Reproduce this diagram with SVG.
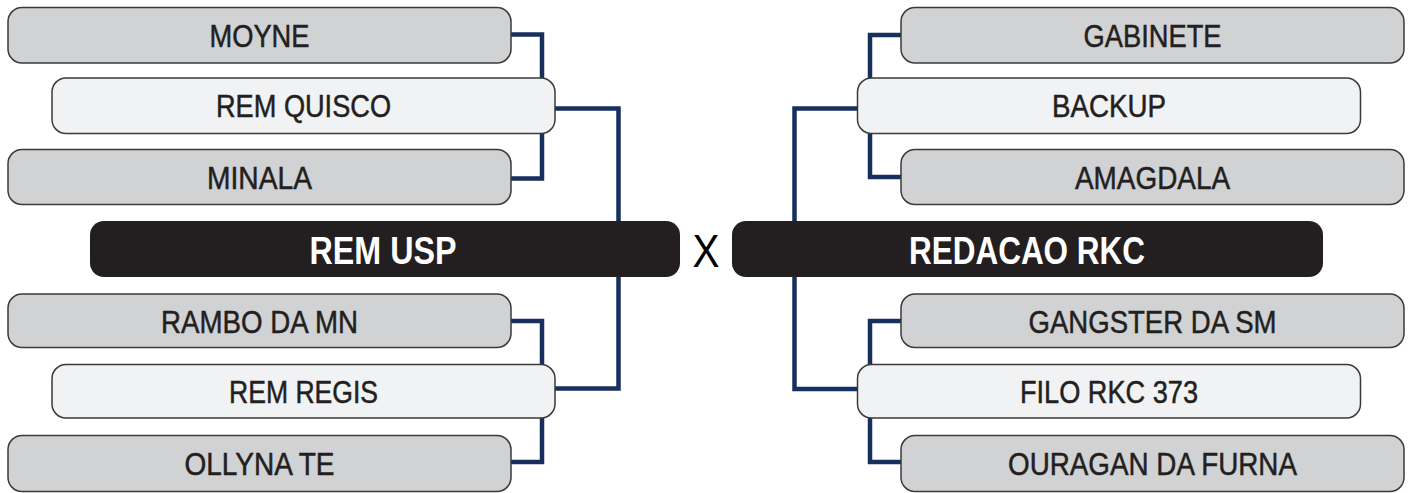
<svg xmlns="http://www.w3.org/2000/svg" width="1412" height="493" viewBox="0 0 1412 493">
<style>
.box{stroke:#3a3a3a;stroke-width:1.5}
.outer{fill:#d1d2d4}
.inner{fill:#f1f2f4}
.main{fill:#231f20;stroke:none}
.lbl{font-family:"Liberation Sans",Arial,sans-serif;font-size:32px;fill:#231f20;stroke:#231f20;stroke-width:0.5;text-anchor:middle}
.mlbl{font-family:"Liberation Sans",Arial,sans-serif;font-size:38px;font-weight:bold;fill:#ffffff;text-anchor:middle}
.conn{fill:none;stroke:#172f5c;stroke-width:4.5;stroke-linejoin:miter}
</style>
<rect width="1412" height="493" fill="#ffffff"/>
<g id="connectors">
<path class="conn" d="M511,34.5 H542 V178.5 H511"/>
<path class="conn" d="M555,108.5 H618.5 V388.5 H555"/>
<path class="conn" d="M511,321 H542 V462 H511"/>
<path class="conn" d="M901,35 H870 V177 H901"/>
<path class="conn" d="M857.5,108.5 H794.5 V389 H857.5"/>
<path class="conn" d="M901,321 H870 V462 H901"/>
</g>
<g id="moyne"><rect class="box outer" x="8" y="7.5" width="503" height="55.5" rx="14"/><text class="lbl" x="259.5" y="47" textLength="100" lengthAdjust="spacingAndGlyphs">MOYNE</text></g>
<g id="rem-quisco"><rect class="box inner" x="52" y="78" width="503" height="55.5" rx="14"/><text class="lbl" x="303.5" y="117" textLength="175" lengthAdjust="spacingAndGlyphs">REM QUISCO</text></g>
<g id="minala"><rect class="box outer" x="8" y="149.5" width="503" height="55" rx="14"/><text class="lbl" x="259.5" y="188.5" textLength="105" lengthAdjust="spacingAndGlyphs">MINALA</text></g>
<g id="rem-usp"><rect class="main" x="90" y="221" width="590" height="56" rx="14"/><text class="mlbl" x="383" y="264" textLength="147" lengthAdjust="spacingAndGlyphs">REM USP</text></g>
<g id="rambo-da-mn"><rect class="box outer" x="8" y="294" width="503" height="53.5" rx="14"/><text class="lbl" x="259.5" y="332.5" textLength="197" lengthAdjust="spacingAndGlyphs">RAMBO DA MN</text></g>
<g id="rem-regis"><rect class="box inner" x="52" y="364.5" width="503" height="53.5" rx="14"/><text class="lbl" x="303.5" y="403" textLength="149" lengthAdjust="spacingAndGlyphs">REM REGIS</text></g>
<g id="ollyna-te"><rect class="box outer" x="8" y="435.5" width="503" height="56" rx="14"/><text class="lbl" x="259.5" y="475" textLength="150" lengthAdjust="spacingAndGlyphs">OLLYNA TE</text></g>
<g id="versus"><text class="lbl" x="706" y="267" textLength="27" lengthAdjust="spacingAndGlyphs" style="font-size:46px;fill:#000000;stroke:none">X</text></g>
<g id="gabinete"><rect class="box outer" x="901" y="7.5" width="503" height="55.5" rx="14"/><text class="lbl" x="1152.5" y="47" textLength="138" lengthAdjust="spacingAndGlyphs">GABINETE</text></g>
<g id="backup"><rect class="box inner" x="857.5" y="78" width="503" height="55.5" rx="14"/><text class="lbl" x="1109" y="117" textLength="114" lengthAdjust="spacingAndGlyphs">BACKUP</text></g>
<g id="amagdala"><rect class="box outer" x="901" y="149.5" width="503" height="55" rx="14"/><text class="lbl" x="1152.5" y="188.5" textLength="155" lengthAdjust="spacingAndGlyphs">AMAGDALA</text></g>
<g id="redacao-rkc"><rect class="main" x="732" y="221" width="591" height="56" rx="14"/><text class="mlbl" x="1027" y="264" textLength="236" lengthAdjust="spacingAndGlyphs">REDACAO RKC</text></g>
<g id="gangster-da-sm"><rect class="box outer" x="901" y="294" width="503" height="53.5" rx="14"/><text class="lbl" x="1152.5" y="332.5" textLength="248" lengthAdjust="spacingAndGlyphs">GANGSTER DA SM</text></g>
<g id="filo-rkc-373"><rect class="box inner" x="857.5" y="364.5" width="503" height="53.5" rx="14"/><text class="lbl" x="1109" y="403" textLength="178" lengthAdjust="spacingAndGlyphs">FILO RKC 373</text></g>
<g id="ouragan-da-furna"><rect class="box outer" x="901" y="435.5" width="503" height="56" rx="14"/><text class="lbl" x="1152.5" y="475" textLength="289" lengthAdjust="spacingAndGlyphs">OURAGAN DA FURNA</text></g>
</svg>
